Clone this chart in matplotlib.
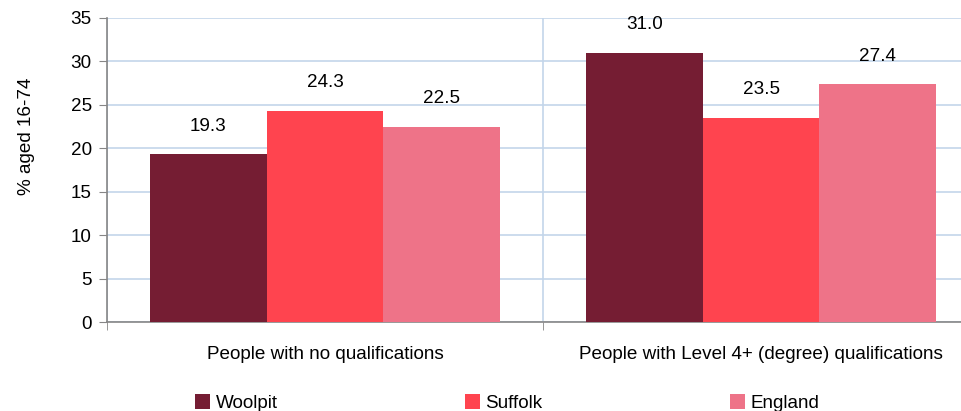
import numpy as np
import matplotlib
matplotlib.use("Agg")
import matplotlib.pyplot as plt
from matplotlib.patches import Patch

plt.rcParams['font.family'] = ['Liberation Sans', 'DejaVu Sans']
plt.rcParams['font.size'] = 13.6

# Qualification levels, % of residents aged 16-74
categories = ['People with no qualifications', 'People with Level 4+ (degree) qualifications']
areas = ['Woolpit', 'Suffolk', 'England']
woolpit = [19.3, 31.0]
suffolk = [24.3, 23.5]
england = [22.5, 27.4]
colours = ['#751D33', '#FF444F', '#EE7388']

grid_col = '#C3D5EA'
axis_col = '#868686'

fig = plt.figure(figsize=(9.62, 4.11), dpi=100)
ax = fig.add_axes([107 / 962, 1 - 322 / 411, 872 / 962, 304 / 411])

x = np.arange(len(categories))
width = 0.268
for i, (vals, col) in enumerate(zip([woolpit, suffolk, england], colours)):
    pos = x + (i - 1) * width
    ax.bar(pos, vals, width=width, color=col, zorder=3)
    for px, v in zip(pos, vals):
        ax.annotate(f'{v:.1f}', (px, v), xytext=(0, 14), textcoords='offset points',
                    ha='center', va='bottom')

ax.set_xlim(-0.5, 1.5)
ax.set_ylim(0, 35)
ax.set_yticks(np.arange(0, 36, 5))
ax.set_xticks(x)
ax.set_xticklabels(categories)
ax.set_xticks([-0.5, 0.5, 1.5], minor=True)

ax.tick_params(axis='x', which='major', length=0, pad=17)
ax.tick_params(axis='x', which='minor', length=6, color=axis_col, direction='out')
ax.tick_params(axis='y', length=6, color=axis_col, direction='out', pad=5)

ax.grid(axis='y', color=grid_col, linewidth=1.2, zorder=0)
ax.grid(axis='x', which='minor', color=grid_col, linewidth=1.2, zorder=0)

for s in ['top', 'right']:
    ax.spines[s].set_visible(False)
for s in ['left', 'bottom']:
    ax.spines[s].set_color(axis_col)
    ax.spines[s].set_linewidth(1.2)

ax.set_ylabel('% aged 16-74')
ax.yaxis.set_label_coords(-0.083, 0.61)

handles = [Patch(facecolor=c, edgecolor='none') for c in colours]
fig.legend(handles, areas, loc='center left', bbox_to_anchor=(195 / 962, 1 - 403 / 411),
           ncol=3, frameon=False, handlelength=0.8, handleheight=0.8,
           handletextpad=0.3, columnspacing=9.9, borderpad=0, borderaxespad=0)

fig.savefig('out.png', dpi=100)
